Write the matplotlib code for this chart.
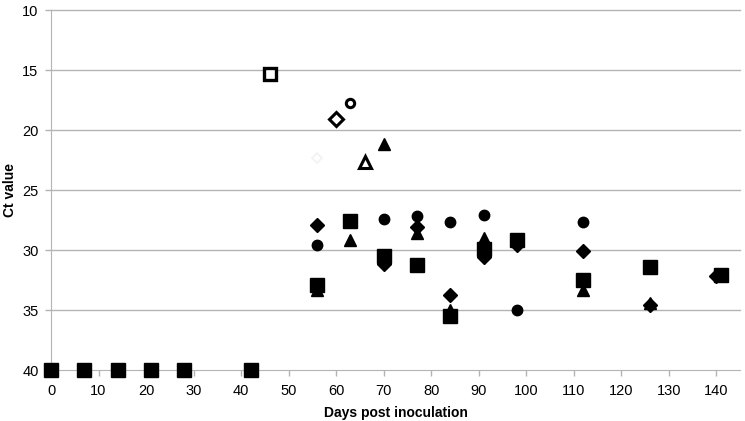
import numpy as np
import matplotlib
matplotlib.use("Agg")
import matplotlib.pyplot as plt

plt.rcParams["font.family"] = ["Liberation Sans", "DejaVu Sans"]

# ── data ──
sq_days = [0, 7, 14, 21, 28, 42, 56, 63, 70, 77, 84, 91, 98, 112, 126, 141]
sq_ct = [40, 40, 40, 40, 40, 40, 32.9, 27.6, 30.5, 31.25, 35.5, 29.9, 29.2, 32.5, 31.4, 32.1]

dia_days = [56, 70, 77, 84, 91, 98, 112, 126, 140]
dia_ct = [27.9, 31.2, 28.1, 33.75, 30.6, 29.6, 30.05, 34.6, 32.2]

circ_days = [56, 70, 77, 84, 91, 98, 112]
circ_ct = [29.6, 27.4, 27.2, 27.7, 27.1, 35.0, 27.7]

tri_days = [56, 63, 70, 77, 84, 91, 112, 126]
tri_ct = [33.3, 29.2, 21.2, 28.6, 35.0, 29.0, 33.3, 34.4]

# open (hollow) markers
open_sq = (46, 15.3)
open_dia = (60, 19.05)
open_circ = (63, 17.75)
open_tri = (66, 22.7)
faint_pt = (56, 22.3)

x_ticks = list(range(0, 141, 10))
y_ticks = [10, 15, 20, 25, 30, 35, 40]

grid_col = "#b4b4b4"

fig = plt.figure(figsize=(7.45, 4.21), dpi=100)
ax = fig.add_axes([0.0685, 0.121, 0.925, 0.855])

for y in y_ticks[:-1]:
    ax.axhline(y, color=grid_col, lw=1.0, zorder=0)

# filled series
ax.plot(dia_days, dia_ct, "D", color="black", ms=7.5, ls="none", zorder=3)
ax.plot(tri_days, tri_ct, "^", color="black", ms=9, ls="none", zorder=3)
ax.plot(circ_days, circ_ct, "o", color="black", ms=7.5, ls="none", zorder=3)
ax.plot(sq_days, sq_ct, "s", color="black", ms=9.5, ls="none", zorder=4)

# hollow series
ax.plot(*open_sq, "s", mfc="white", mec="black", mew=2.4, ms=9, zorder=4)
ax.plot(*open_dia, "D", mfc="white", mec="black", mew=2.2, ms=7.5, zorder=4)
ax.plot(*open_circ, "o", mfc="white", mec="black", mew=2.2, ms=6, zorder=4)
ax.plot(*open_tri, "^", mfc="white", mec="black", mew=2.2, ms=9, zorder=4)
ax.plot(*faint_pt, "D", mfc="white", mec="#f2f2f2", mew=1.2, ms=5, zorder=2)

ax.set_xlim(0, 145)
ax.set_ylim(40, 10)
ax.set_xticks(x_ticks)
ax.set_yticks(y_ticks)
ax.tick_params(axis="both", labelsize=10.5, color=grid_col, length=4, width=1)
ax.tick_params(axis="x", pad=6)
ax.tick_params(axis="y", pad=5)

for s in ["top", "right"]:
    ax.spines[s].set_visible(False)
ax.spines["left"].set_color(grid_col)
ax.spines["bottom"].set_color(grid_col)
ax.spines["left"].set_zorder(1)
ax.spines["bottom"].set_zorder(1)

ax.set_xlabel("Days post inoculation", fontsize=10, fontweight="bold", labelpad=6)
ax.set_ylabel("Ct value", fontsize=10, fontweight="bold")
ax.yaxis.set_label_coords(-0.05, 0.5)

for m in ax.lines:
    m.set_clip_on(False)

fig.savefig("out.png", dpi=100)
